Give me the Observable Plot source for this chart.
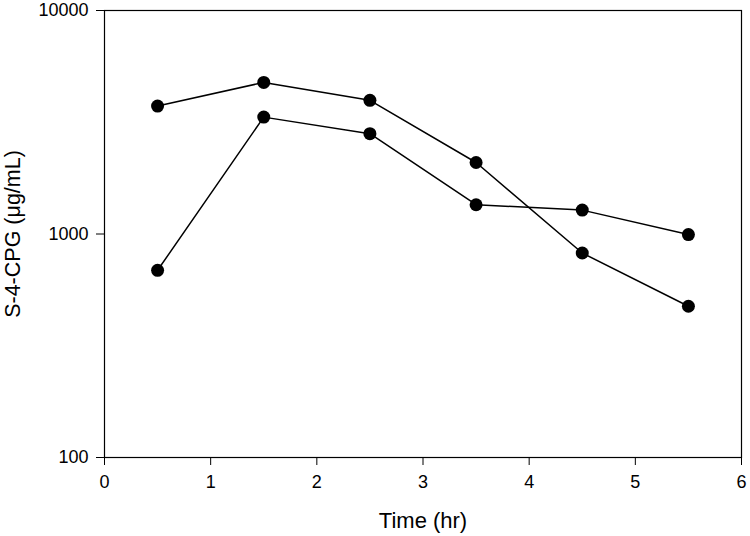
<!DOCTYPE html>
<html>
<head>
<meta charset="utf-8">
<script src="https://cdn.jsdelivr.net/npm/d3@7"></script>
<script src="https://cdn.jsdelivr.net/npm/@observablehq/plot@0.6"></script>
<style>
  html, body { margin: 0; padding: 0; background: #fff; }
  svg { display: block; }
</style>
</head>
<body>
<div id="chart"></div>
<script>
const times = [0.5, 1.5, 2.5, 3.5, 4.5, 5.5];
const seriesA = [3735, 4767, 3963, 2089, 822, 475];
const seriesB = [688, 3334, 2812, 1352, 1279, 994];
const xTicks = [0, 1, 2, 3, 4, 5, 6];
const yTicks = [100, 1000, 10000];

const data = [
  ...times.map((t, i) => ({time: t, value: seriesA[i], series: "A"})),
  ...times.map((t, i) => ({time: t, value: seriesB[i], series: "B"}))
];

const font = "'Liberation Sans', Arial, sans-serif";

const chart = Plot.plot({
  width: 750,
  height: 536,
  marginLeft: 104,
  marginRight: 9,
  marginTop: 10,
  marginBottom: 79,
  style: {fontFamily: font, fontSize: "18px", color: "#000", background: "#fff"},
  x: {domain: [0, 6]},
  y: {type: "log", domain: [100, 10000]},
  marks: [
    Plot.frame({stroke: "#000", strokeWidth: 1.2}),
    Plot.axisX({ticks: xTicks, tickSize: 8, tickPadding: 10, tickFormat: d => String(d), label: null, fontSize: 18, fontVariant: "normal"}),
    Plot.axisY({ticks: yTicks, tickSize: 8, tickPadding: 8, tickFormat: d => String(d), label: null, fontSize: 18, fontVariant: "normal"}),
    Plot.text(["Time (hr)"], {frameAnchor: "bottom", dy: 63, fontSize: 22, lineAnchor: "middle", textAnchor: "middle"}),
    Plot.text(["S-4-CPG (μg/mL)"], {frameAnchor: "left", dx: -91, rotate: -90, fontSize: 21.5, lineAnchor: "middle", textAnchor: "middle"}),
    Plot.line(data, {x: "time", y: "value", z: "series", stroke: "#000", strokeWidth: 1.5}),
    Plot.dot(data, {x: "time", y: "value", r: 6.5, fill: "#000", stroke: "none"})
  ]
});
document.getElementById("chart").appendChild(chart);
</script>
</body>
</html>
